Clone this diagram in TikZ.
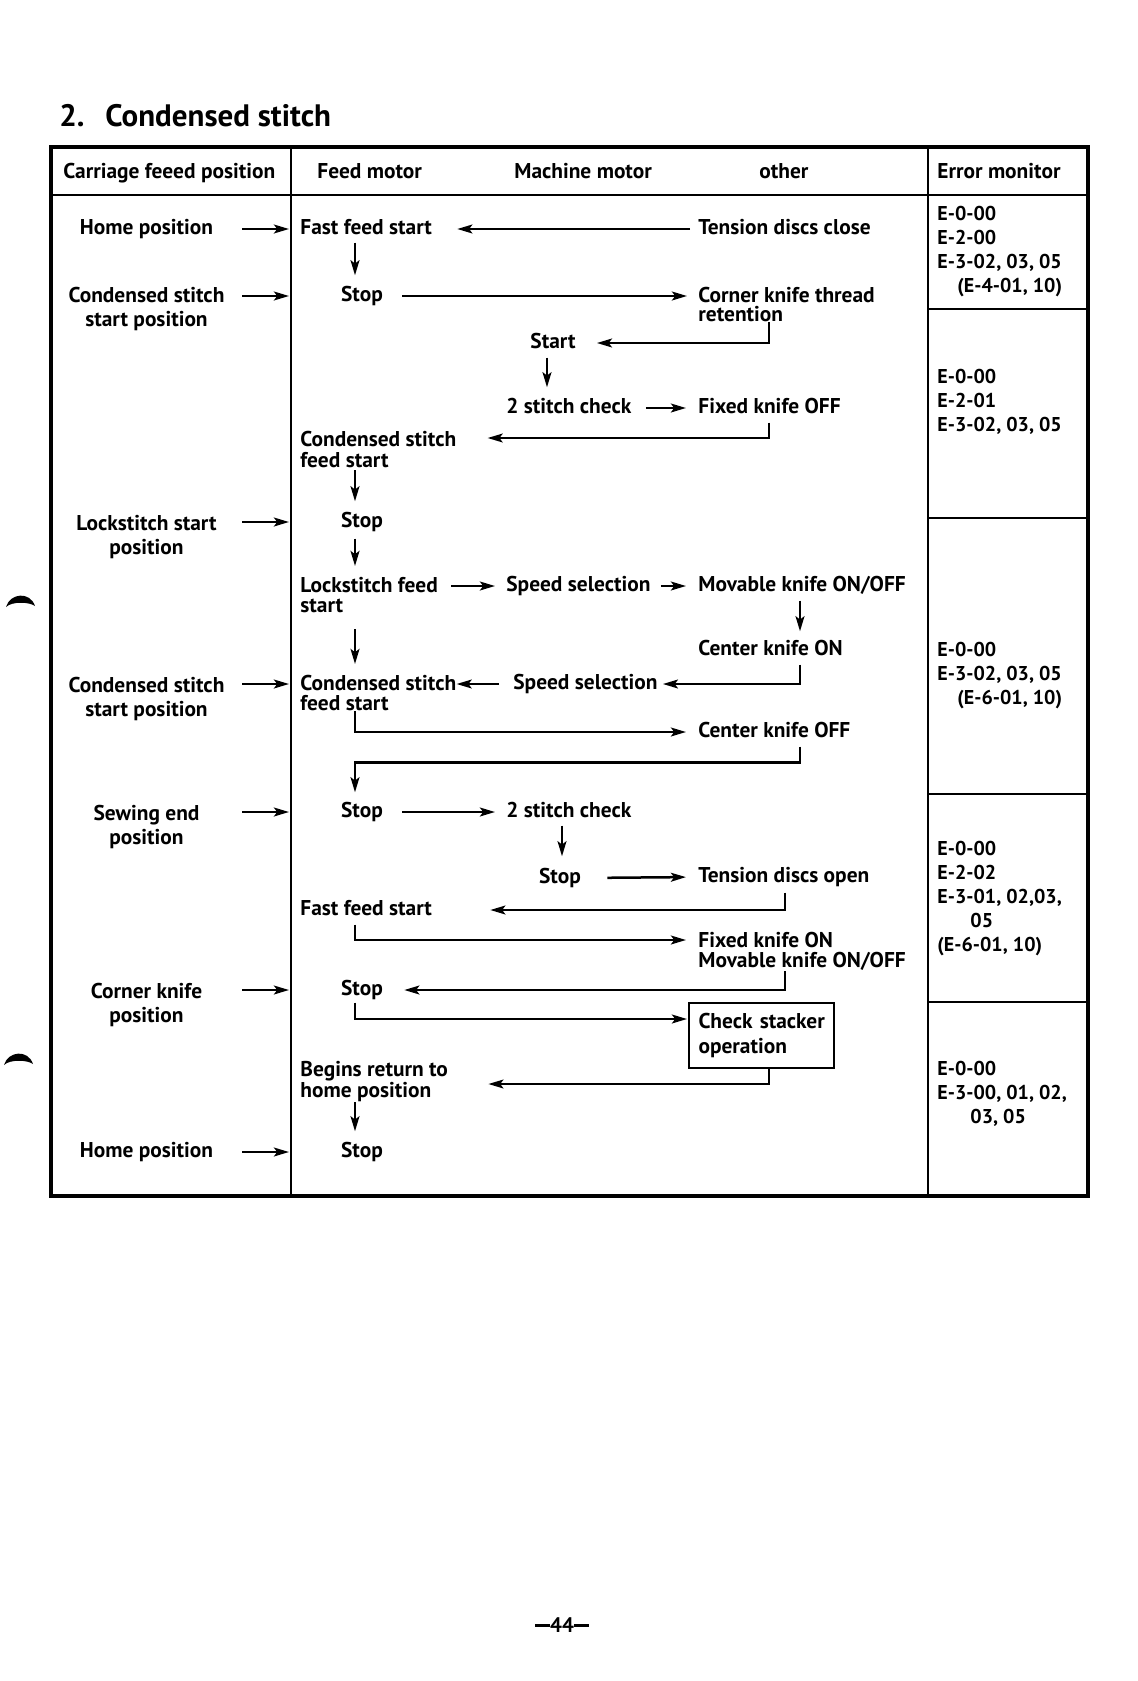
\documentclass[tikz,border=0pt]{standalone}
\usepackage{fontspec}
\setmainfont{PT Sans}
\usetikzlibrary{arrows.meta,calc}
\begin{document}
\begin{tikzpicture}[x=0.5pt,y=-0.5pt,
  t/.style={font=\bfseries\fontsize{10.7}{12}\selectfont, inner sep=0pt, text height=7.8pt, text depth=2pt},
  tm/.style={font=\bfseries\fontsize{10.7}{#1}\selectfont, inner sep=0pt, align=left},
  tc/.style={font=\bfseries\fontsize{10.7}{12}\selectfont, inner sep=0pt, align=center},
  err/.style={font=\bfseries\fontsize{10}{12}\selectfont, inner sep=0pt, align=left, anchor=north west},
  arr/.style={line width=1.25pt, -{Stealth[length=7.5pt,width=4.4pt,inset=1.6pt]}},
  grid/.style={line width=1.1pt},
  frame/.style={line width=1.8pt},
]
\useasboundingbox (0,0) rectangle (1138,1681);

% title
\node[inner sep=0pt, anchor=base west, font=\bfseries\fontsize{15.5}{18}\selectfont] (ttl1) at (59,126) {2.};
\node[inner sep=0pt, anchor=base west, font=\bfseries\fontsize{15.5}{18}\selectfont] (ttl2) at (105,126) {Condensed stitch};

% table
\draw[frame] (51,147) rectangle (1088,1196);
\draw[grid] (51,195) -- (1088,195);
\draw[grid] (291,147) -- (291,1196);
\draw[grid] (928,147) -- (928,1196);
\foreach \yy in {309,518,794,1002} \draw[grid] (928,\yy) -- (1088,\yy);

% header
\node[t,anchor=west] (h1) at (63,173) {Carriage feeed position};
\node[t,anchor=west] (h2) at (317,173) {Feed motor};
\node[t,anchor=west] (h3) at (514,173) {Machine motor};
\node[t,anchor=west] (h4) at (759,173) {other};
\node[t,anchor=west] (h5) at (937,173) {Error monitor};

% left column
\node[t] (L1) at (146.5,229) {Home position};
\node[tc,anchor=north] (L2) at (146.5,287) {Condensed stitch\\start position};
\node[tc,anchor=north] (L3) at (146.5,515) {Lockstitch start\\position};
\node[tc,anchor=north] (L4) at (146.5,677) {Condensed stitch\\start position};
\node[tc,anchor=north] (L5) at (146.5,805) {Sewing end\\position};
\node[tc,anchor=north] (L6) at (146.5,983) {Corner knife\\position};
\node[t] (L7) at (146.5,1152) {Home position};

% flow nodes
\node[t,anchor=west] (F1) at (300,229) {Fast feed start};
\node[t] (F2) at (362,296) {Stop};
\node[t,anchor=west] (T1) at (698,229) {Tension discs close};
\node[tm=9.5pt,anchor=north west] (T2) at (698,287) {Corner knife thread\\retention};
\node[t] (M1) at (553,343) {Start};
\node[t,anchor=west] (M2) at (506,408) {2 stitch check};
\node[t,anchor=west] (T3) at (698,408) {Fixed knife OFF};
\node[tm=10.5pt,anchor=north west] (F3) at (300,431) {Condensed stitch\\feed start};
\node[t] (F4) at (362,522) {Stop};
\node[tm=10pt,anchor=north west] (F5) at (300,577) {Lockstitch feed\\start};
\node[t,anchor=west] (M3) at (506,586) {Speed selection};
\node[t,anchor=west] (T4) at (698,586) {Movable knife ON/OFF};
\node[t,anchor=west] (T5) at (698,650) {Center knife ON};
\node[t,anchor=west] (M4) at (513,684) {Speed selection};
\node[tm=10pt,anchor=north west] (F6) at (300,675) {Condensed stitch\\feed start};
\node[t,anchor=west] (T6) at (698,732) {Center knife OFF};
\node[t] (F7) at (362,812) {Stop};
\node[t,anchor=west] (M5) at (506,812) {2 stitch check};
\node[t] (M6) at (560,878) {Stop};
\node[t,anchor=west] (T7) at (698,877) {Tension discs open};
\node[t,anchor=west] (F8) at (300,910) {Fast feed start};
\node[tm=10pt,anchor=north west] (T8) at (698,932) {Fixed knife ON\\Movable knife ON/OFF};
\node[t] (F9) at (362,990) {Stop};
\node[draw, line width=1pt, anchor=north west, font=\bfseries\fontsize{10.7}{12.5}\selectfont,
      align=left, text width=67pt, inner xsep=2.75pt, inner ysep=0pt, minimum height=32.5pt] (B1) at (688,1002) {\hspace*{2pt}Check stacker\\\hspace*{2pt}operation};
\node[tm=10.5pt,anchor=north west] (F10) at (300,1061) {Begins return to\\home position};
\node[t] (F11) at (362,1152) {Stop};

% error monitor
\node[err] (E1) at (937,206) {E-0-00\\E-2-00\\E-3-02, 03, 05\\\hspace*{10pt}(E-4-01, 10)};
\node[err] (E2) at (937,369) {E-0-00\\E-2-01\\E-3-02, 03, 05};
\node[err] (E3) at (937,642) {E-0-00\\E-3-02, 03, 05\\\hspace*{10pt}(E-6-01, 10)};
\node[err] (E4) at (937,841) {E-0-00\\E-2-02\\E-3-01, 02,03,\\\hspace*{16.5pt}05\\(E-6-01, 10)};
\node[err] (E5) at (937,1061) {E-0-00\\E-3-00, 01, 02,\\\hspace*{16.5pt}03, 05};

% helper coordinates
\coordinate (fx) at (355,0);
\coordinate (la) at (242,0);
\coordinate (lb) at (289,0);
\coordinate (mx1) at (547,0);
\coordinate (mx2) at (562,0);
\coordinate (ox1) at (769,0);
\coordinate (ox2) at (800,0);
\coordinate (ox3) at (785,0);

% left arrows
\draw[arr] (F1.west -| la) -- (F1.west -| lb);
\draw[arr] (F2.west -| la) -- (F2.west -| lb);
\draw[arr] (F4.west -| la) -- (F4.west -| lb);
\draw[arr] (M4.west -| la) -- (M4.west -| lb);
\draw[arr] (F7.west -| la) -- (F7.west -| lb);
\draw[arr] (F9.west -| la) -- (F9.west -| lb);
\draw[arr] (F11.west -| la) -- (F11.west -| lb);

% flow connectors
\draw[arr, shorten <=4pt, shorten >=12.5pt] (T1.west) -- (T1.west -| F1.east);
\draw[arr, shorten <=1.75pt, shorten >=5.25pt] (F1.south -| fx) -- (F2.north -| fx);
\draw[arr, shorten <=9.5pt, shorten >=5.5pt] (F2.east) -- (F2.east -| T2.west);
\draw[arr, shorten >=10.5pt] (T2.south -| ox1) |- (M1.east);
\draw[arr, shorten <=2.25pt, shorten >=5.25pt] (M1.south -| mx1) -- (M2.north -| mx1);
\draw[arr, shorten <=7pt, shorten >=6pt] (M2.east) -- (T3.west);
\draw[arr, shorten <=2.25pt, shorten >=15.5pt] (T3.south -| ox1) |- ($(F3.north east)+(0,7)$);
\draw[arr, shorten <=1pt, shorten >=5.25pt] (F3.south -| fx) -- (F4.north -| fx);
\draw[arr, shorten <=3.25pt, shorten >=5.5pt] (F4.south -| fx) -- (F5.north -| fx);
\draw[arr, shorten <=6.5pt, shorten >=5.5pt] ($(F5.north east)+(0,9)$) -- (M3.west);
\draw[arr, shorten <=5pt, shorten >=6pt] (M3.east) -- (T4.west);
\draw[arr, shorten <=2.25pt, shorten >=4.25pt] (T4.south -| ox2) -- (T5.north -| ox2);
\draw[arr, shorten <=2.25pt, shorten >=2.5pt] (T5.south -| ox2) |- (M4.east);
\draw[arr, shorten <=7pt] (M4.west) -- (M4.west -| F6.east);
\draw[arr, shorten <=8pt, shorten >=5.5pt] (F5.south -| fx) -- (F6.north -| fx);
\draw[arr, shorten >=6pt] (F6.south -| fx) |- (T6.west);
\draw[arr, shorten <=2.25pt, shorten >=4.75pt] (T6.south -| ox2) -- ++(0,20.5) -| (F7.north -| fx);
\draw[arr, shorten <=9.5pt, shorten >=5.5pt] (F7.east) -- (M5.west);
\draw[arr, shorten <=1.75pt, shorten >=5.75pt] (M5.south -| mx2) -- (M6.north -| mx2);
\draw[arr, shorten <=13pt, shorten >=6pt] (M6.east) -- (T7.west);
\draw[arr, shorten <=2.75pt, shorten >=29pt] (T7.south -| ox3) |- (F8.east);
\draw[arr, shorten <=2.25pt, shorten >=6pt] (F8.south -| fx) |- ($(T8.north west)+(0,8)$);
\draw[arr, shorten >=10.5pt] (T8.south -| ox3) |- (F9.east);
\draw[arr, shorten <=1.25pt, shorten >=0.5pt] (F9.south -| fx) |- ($(B1.north west)+(0,17)$);
\draw[arr, shorten >=20pt] (B1.south -| ox1) |- ($(F10.north east)+(0,23)$);
\draw[arr, shorten >=5.25pt] (F10.south -| fx) -- (F11.north -| fx);

% page number
\node[inner sep=0pt, font=\bfseries\fontsize{10.5}{12}\selectfont] (pg) at (562,1625) {\rule[0.25em]{0.7em}{0.13em}44\rule[0.25em]{0.7em}{0.13em}};

% scan marks at the left margin
\fill (6,607) .. controls (10,593) and (30,591) .. (35,606) .. controls (30,602) and (12,601) .. (6,607) -- cycle;
\fill (4,1065) .. controls (8,1051) and (28,1049) .. (33,1064) .. controls (28,1060) and (10,1059) .. (4,1065) -- cycle;
\end{tikzpicture}
\end{document}
